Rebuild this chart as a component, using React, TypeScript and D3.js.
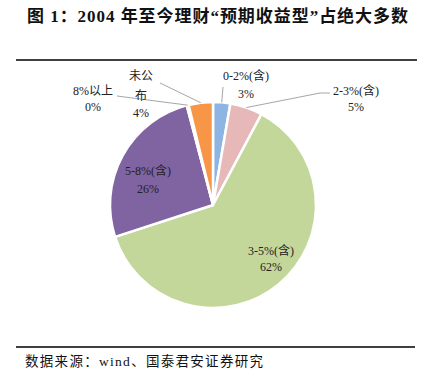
import React from "react";
import * as d3 from "d3";

const categories = ["0-2%(含)", "2-3%(含)", "3-5%(含)", "5-8%(含)", "8%以上", "未公布"];
const values = [2.7, 5.1, 62.2, 25.9, 0.3, 3.8];
const pctLabels = ["3%", "5%", "62%", "26%", "0%", "4%"];
const colors = ["#8DB4E2", "#E6B9B8", "#C4D79B", "#8064A2", "#FFF2CC", "#F79646"];

// layout for label text lines (text lines per category, positions)
const labelLines: string[][] = [
  [categories[0], pctLabels[0]],
  [categories[1], pctLabels[1]],
  [categories[2], pctLabels[2]],
  [categories[3], pctLabels[3]],
  [categories[4], pctLabels[4]],
  ["未公", "布", pctLabels[5]],
];
const labelLayout = [
  { x: 246, ys: [77, 95], lead: [[223, 87]] },
  { x: 356, ys: [92, 108], lead: [[330, 93], [320, 93]] },
  { x: 271, ys: [252, 268], lead: null },
  { x: 148, ys: [172, 190], lead: null },
  { x: 93, ys: [92, 108], lead: [[117, 96]] },
  { x: 141, ys: [77, 97, 114], lead: [[160, 83]] },
];

const W = 431, H = 378;
const cx = 213, cy = 205, R = 103;

export default function App() {
  const pie = d3.pie<number>().sort(null).value((d) => d)(values);
  const arc = d3.arc<d3.PieArcDatum<number>>().innerRadius(0).outerRadius(R);
  const serif = "'Liberation Serif', 'Times New Roman', 'Noto Sans CJK SC', serif";
  return (
    <svg width={W} height={H} style={{ position: "absolute", left: 0, top: 0, background: "#fff" }}>
      <rect x={0} y={0} width={W} height={H} fill="#fff" />
      <text x={27} y={22} textLength={381} lengthAdjust="spacing" fontSize={17} fontWeight="bold" fontFamily={serif} fill="#111">
        图 1：2004 年至今理财“预期收益型”占绝大多数
      </text>
      <line x1={16} x2={417} y1={60} y2={60} stroke="#000" strokeWidth={1.5} />
      <g transform={`translate(${cx},${cy})`}>
        {pie.map((d, i) => (
          <path key={i} d={arc(d) || ""} fill={colors[i]} stroke="#fff" strokeWidth={2.5} strokeLinejoin="round" />
        ))}
      </g>
      {pie.map((d, i) => {
        const lay = labelLayout[i];
        if (!lay.lead) return null;
        const mid = (d.startAngle + d.endAngle) / 2;
        const ex = cx + R * Math.sin(mid);
        const ey = cy - R * Math.cos(mid);
        const pts = [...lay.lead, [ex, ey]];
        return (
          <polyline key={"l" + i} points={pts.map((p) => p.join(",")).join(" ")} fill="none" stroke="#A6A6A6" strokeWidth={1} />
        );
      })}
      {labelLines.map((lines, i) => (
        <g key={"t" + i}>
          {lines.map((s, j) => (
            <text key={j} x={labelLayout[i].x} y={labelLayout[i].ys[j]} textAnchor="middle" dominantBaseline="middle" fontSize={12} fontFamily={serif} fill="#222">
              {s}
            </text>
          ))}
        </g>
      ))}
      <line x1={16} x2={415} y1={347} y2={347} stroke="#000" strokeWidth={1.5} />
      <text x={25} y={366} textLength={238} lengthAdjust="spacing" fontSize={13.5} fontFamily={serif} fill="#111">
        数据来源：wind、国泰君安证券研究
      </text>
    </svg>
  );
}
